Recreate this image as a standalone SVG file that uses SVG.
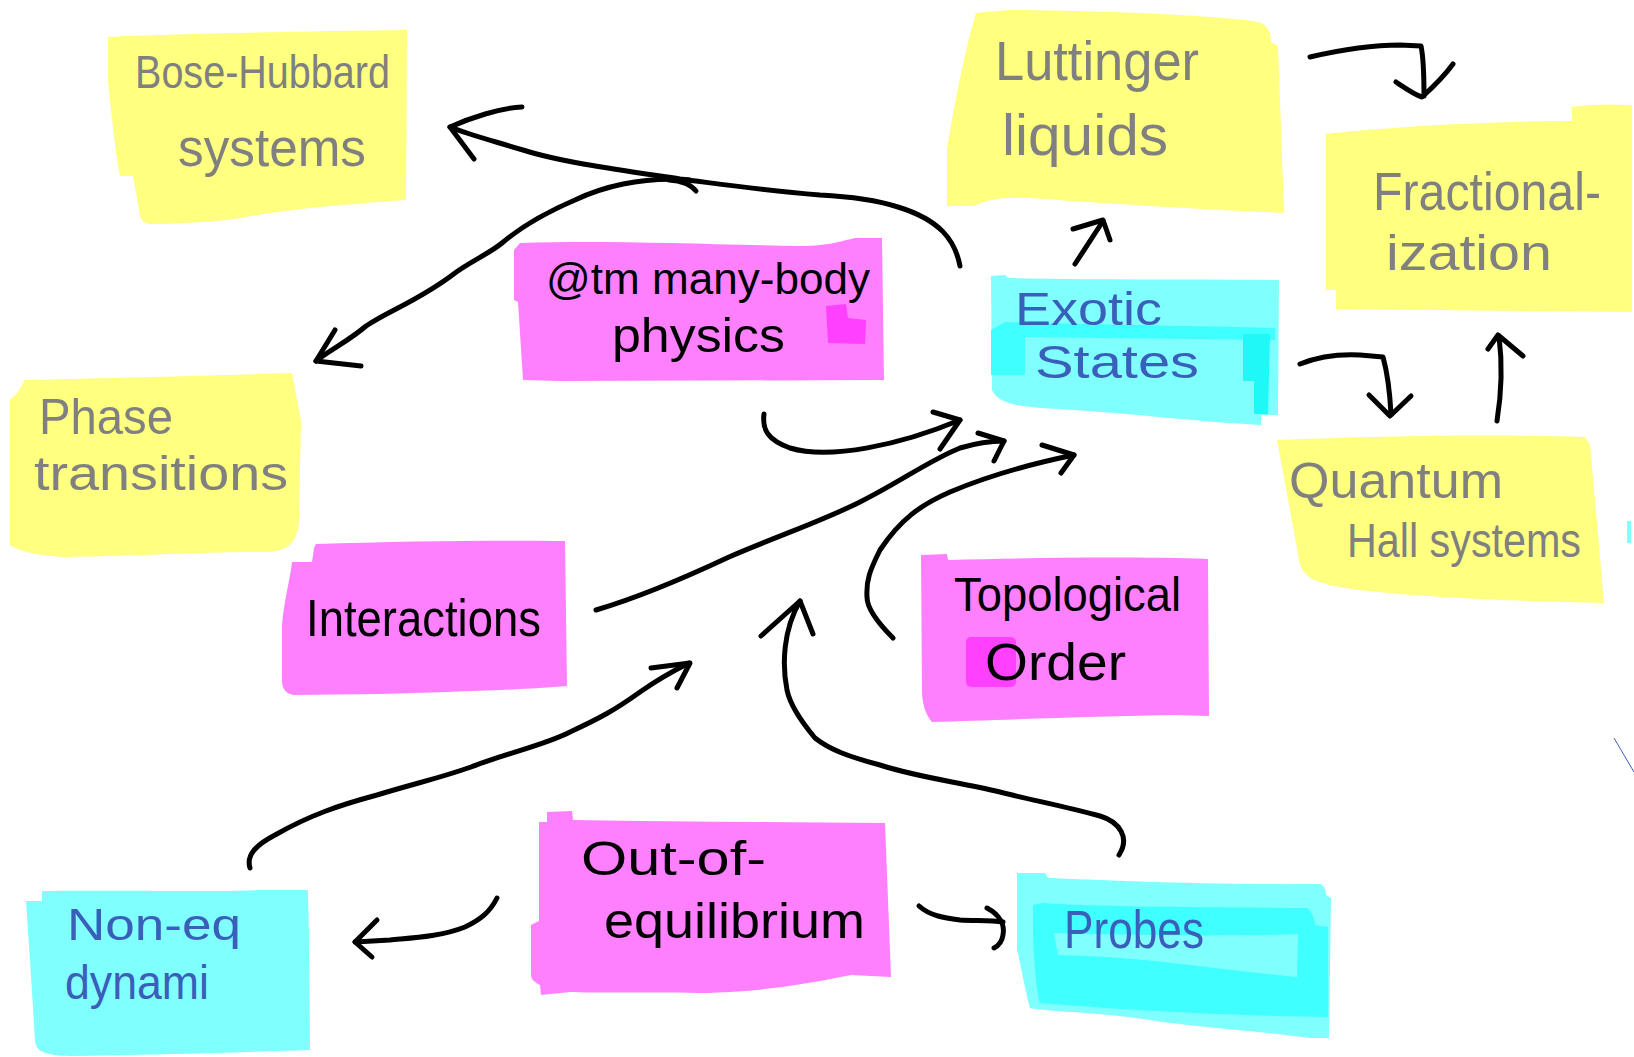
<svg xmlns="http://www.w3.org/2000/svg" width="1634" height="1057" viewBox="0 0 1634 1057">
<style>
.y{fill:#ffff80}
.m{fill:#ff80ff}
.c{fill:#80ffff}
.cd{fill:#40ffff}
.t{font-family:"Liberation Sans","Noto Sans",sans-serif}
.g{fill:#808080}
.k{fill:#000000}
.b{fill:#3a5fba}
#connectors path{fill:none;stroke:#000;stroke-width:5;stroke-linecap:round;stroke-linejoin:round}
</style>
<rect width="1634" height="1057" fill="#ffffff"/>

<g id="bose-hubbard">
<path class="y" d="M 108 37 L 128 36 C 220 33 320 31 407 30 L 406 200 C 330 205 270 212 240 218 C 215 222 175 224 150 224 C 142 223 140 219 139 210 L 133 176 L 120 176 C 115 150 111 110 108 80 Z"/>
<text class="t g" x="135" y="88" font-size="46" textLength="255" lengthAdjust="spacingAndGlyphs">Bose-Hubbard</text>
<text class="t g" x="178" y="166" font-size="54" textLength="188" lengthAdjust="spacingAndGlyphs">systems</text>
</g>

<g id="luttinger">
<path class="y" d="M 976 13 L 1010 10 C 1120 11 1220 16 1258 22 C 1268 25 1271 32 1271 42 L 1278 46 L 1284 213 C 1220 210 1140 206 1030 198 C 1000 197 985 200 975 206 L 947 206 L 947 150 C 955 100 965 50 976 13 Z"/>
<text class="t g" x="995" y="80" font-size="56" textLength="204" lengthAdjust="spacingAndGlyphs">Luttinger</text>
<text class="t g" x="1002" y="155" font-size="58" textLength="166" lengthAdjust="spacingAndGlyphs">liquids</text>
</g>

<g id="fractionalization">
<path class="y" d="M 1326 134 C 1400 126 1480 122 1572 121 L 1572 107 C 1590 104 1610 104 1632 105 L 1632 312 L 1336 309 L 1336 290 L 1326 290 Z"/>
<text class="t g" x="1373" y="210" font-size="54" textLength="228" lengthAdjust="spacingAndGlyphs">Fractional-</text>
<text class="t g" x="1386" y="270" font-size="50" textLength="166" lengthAdjust="spacingAndGlyphs">ization</text>
</g>

<g id="exotic-states">
<path class="c" d="M 991 276 L 1005 275 L 1008 278 C 1100 280 1200 279 1279 280 L 1278 415 L 1261 415 L 1261 425 C 1200 422 1120 412 1040 408 C 1010 406 996 400 992 390 Z"/>
<path class="cd" d="M 991 330 L 1005 322 C 1100 325 1200 326 1275 328 L 1275 340 L 1025 337 L 1025 375 L 991 375 Z"/>
<path fill="#20f8f8" d="M 1243 334 L 1270 334 L 1268 414 L 1254 414 L 1254 381 L 1243 381 Z"/>
<text class="t b" x="1015" y="325" font-size="46" textLength="147" lengthAdjust="spacingAndGlyphs">Exotic</text>
<text class="t b" x="1035" y="378" font-size="46" textLength="164" lengthAdjust="spacingAndGlyphs">States</text>
</g>

<g id="quantum-hall">
<path class="y" d="M 1277 440 C 1380 436 1500 434 1585 437 L 1590 445 L 1604 603 L 1500 600 C 1420 596 1360 592 1330 585 C 1310 580 1305 575 1300 565 L 1290 510 Z"/>
<text class="t g" x="1289" y="498" font-size="50" textLength="214" lengthAdjust="spacingAndGlyphs">Quantum</text>
<text class="t g" x="1347" y="557" font-size="48" textLength="234" lengthAdjust="spacingAndGlyphs">Hall systems</text>
</g>

<g id="atm-many-body">
<path class="m" d="M 520 243 C 600 240 700 244 800 246 C 830 246 845 240 855 238 L 882 238 L 884 380 L 560 381 L 523 380 L 518 302 L 514 300 L 514 250 Z"/>
<path fill="#ff40ff" d="M 826 306 L 846 304 L 848 318 L 866 320 L 865 344 L 828 343 Z"/>
<text class="t k" x="546" y="294" font-size="44" textLength="324" lengthAdjust="spacingAndGlyphs">@tm many-body</text>
<text class="t k" x="612" y="352" font-size="48" textLength="173" lengthAdjust="spacingAndGlyphs">physics</text>
</g>

<g id="phase-transitions">
<path class="y" d="M 25 380 C 100 378 200 376 260 374 L 292 373 L 301 421 L 299 520 C 298 540 290 550 270 552 C 200 552 140 556 65 557 C 40 556 20 552 10 545 L 10 400 L 18 392 Z"/>
<text class="t g" x="39" y="434" font-size="50" textLength="134" lengthAdjust="spacingAndGlyphs">Phase</text>
<text class="t g" x="34" y="490" font-size="48" textLength="254" lengthAdjust="spacingAndGlyphs">transitions</text>
</g>

<g id="interactions">
<path class="m" d="M 316 544 C 400 541 500 540 565 541 L 567 686 C 520 690 450 692 380 694 L 293 695 C 285 693 282 688 282 680 L 282 625 C 284 600 290 580 292 562 L 312 562 L 314 548 Z"/>
<text class="t k" x="306" y="636" font-size="52" textLength="235" lengthAdjust="spacingAndGlyphs">Interactions</text>
</g>

<g id="topological-order">
<path class="m" d="M 921 555 L 947 554 L 948 560 C 1050 557 1150 557 1208 559 L 1209 716 L 1175 715 C 1100 716 1000 720 932 722 C 926 715 922 705 922 690 Z"/>
<rect x="966" y="637" width="50" height="50" rx="5" fill="#ff40ff"/>
<text class="t k" x="954" y="611" font-size="48" textLength="227" lengthAdjust="spacingAndGlyphs">Topological</text>
<text class="t k" x="985" y="680" font-size="52" textLength="141" lengthAdjust="spacingAndGlyphs">Order</text>
</g>

<g id="out-of-equilibrium">
<path class="m" d="M 547 812 L 572 811 L 573 820 C 680 822 790 822 885 823 L 891 977 L 851 975 C 800 985 760 992 700 993 C 640 992 590 993 570 992 L 541 995 L 540 985 C 535 982 531 980 531 975 L 531 925 L 539 921 L 539 822 L 547 822 Z"/>
<text class="t k" x="581" y="875" font-size="48" textLength="185" lengthAdjust="spacingAndGlyphs">Out-of-</text>
<text class="t k" x="604" y="938" font-size="50" textLength="261" lengthAdjust="spacingAndGlyphs">equilibrium</text>
</g>

<g id="non-eq-dynami">
<path class="c" d="M 42 891 C 120 890 200 892 260 890 L 308 890 L 309 940 L 310 1050 C 250 1052 150 1055 70 1056 C 40 1055 36 1050 35 1040 L 30 960 L 26 901 L 42 901 Z"/>
<text class="t b" x="67" y="940" font-size="44" textLength="174" lengthAdjust="spacingAndGlyphs">Non-eq</text>
<text class="t b" x="65" y="999" font-size="48" textLength="144" lengthAdjust="spacingAndGlyphs">dynami</text>
</g>

<g id="probes">
<path class="c" d="M 1017 873 L 1045 873 L 1048 878 C 1100 880 1200 885 1320 884 C 1325 886 1326 890 1326 895 L 1331 898 L 1329 1038 L 1310 1038 C 1250 1030 1200 1028 1150 1020 C 1100 1012 1050 1012 1030 1008 C 1025 990 1020 960 1017 950 Z"/>
<path class="cd" d="M 1033 905 L 1043 903 C 1100 907 1200 907 1307 908 C 1312 912 1314 917 1315 925 L 1328 927 L 1328 1017 C 1250 1016 1150 1012 1040 1003 C 1036 990 1033 950 1033 930 Z"/>
<path class="c" d="M 1054 933 C 1150 936 1250 936 1298 934 L 1297 977 C 1220 970 1150 957 1058 955 Z"/>
<text class="t b" x="1064" y="948" font-size="54" textLength="140" lengthAdjust="spacingAndGlyphs">Probes</text>
</g>

<g id="connectors">
<path d="M 960 266 C 955 240 940 220 898 207 C 870 198 840 196 820 195 C 760 190 720 184 680 179 C 620 170 560 162 523 150 C 490 140 470 135 450 127"/>
<path d="M 522 107 C 500 108 470 118 450 127 L 474 159"/>
<path d="M 669 180 C 683 181 692 186 696 191"/>
<path d="M 690 180 C 640 176 600 188 575 200 C 540 215 515 232 502 243 C 490 253 470 262 455 273 C 420 300 390 310 366 326 C 350 340 330 350 316 361"/>
<path d="M 335 330 L 316 361 L 361 366"/>
<path d="M 764 414 C 762 430 768 440 790 448 C 830 460 900 445 960 420"/>
<path d="M 933 412 L 960 420 L 940 449"/>
<path d="M 596 610 C 630 600 680 580 729 557 C 780 535 820 522 860 502 C 900 482 930 460 960 448 C 980 442 995 441 1004 441"/>
<path d="M 978 433 L 1004 441 L 994 461"/>
<path d="M 893 638 C 880 625 867 610 867 597 C 866 580 870 570 880 550 C 900 520 920 505 950 492 C 990 475 1040 462 1074 455"/>
<path d="M 1042 445 L 1074 455 L 1061 473"/>
<path d="M 1075 264 L 1103 221"/>
<path d="M 1073 229 L 1103 220 L 1110 240"/>
<path d="M 1310 57 C 1340 50 1370 45 1400 45 L 1421 46 C 1424 60 1424 80 1424 96"/>
<path d="M 1396 82 C 1405 88 1415 95 1422 97 C 1432 88 1445 75 1453 64"/>
<path d="M 1300 364 C 1320 356 1340 354 1360 355 L 1383 357 C 1388 375 1390 395 1391 414"/>
<path d="M 1369 395 L 1390 416 L 1411 396"/>
<path d="M 1497 421 C 1502 390 1502 360 1499 336"/>
<path d="M 1488 349 L 1498 335 L 1523 356"/>
<path d="M 250 868 C 246 855 256 845 275 835 C 310 815 340 805 377 795 C 420 782 440 778 471 767 C 510 752 545 745 570 732 C 600 718 615 710 640 692 C 660 678 675 670 689 663"/>
<path d="M 651 668 L 690 663 L 677 688"/>
<path d="M 1119 855 C 1130 838 1120 822 1100 816 C 1060 805 1030 800 1000 792 C 960 782 920 778 880 765 C 850 757 830 750 815 738 C 800 720 790 705 787 690 C 782 665 783 630 800 601"/>
<path d="M 761 636 L 800 601 L 813 634"/>
<path d="M 497 898 C 490 912 480 920 465 927 C 440 937 410 938 390 940 L 355 942"/>
<path d="M 377 920 L 355 942 L 372 957"/>
<path d="M 919 906 C 930 916 945 918 960 920 C 975 921 990 920 1003 922"/>
<path d="M 987 908 C 1000 915 1005 925 1003 935 C 1002 942 998 946 994 948"/>
</g>

<line x1="1614" y1="738" x2="1634" y2="772" stroke="#3a5fba" stroke-width="1"/>
<rect x="1627" y="521" width="4" height="22" fill="#80ffff"/>
</svg>
